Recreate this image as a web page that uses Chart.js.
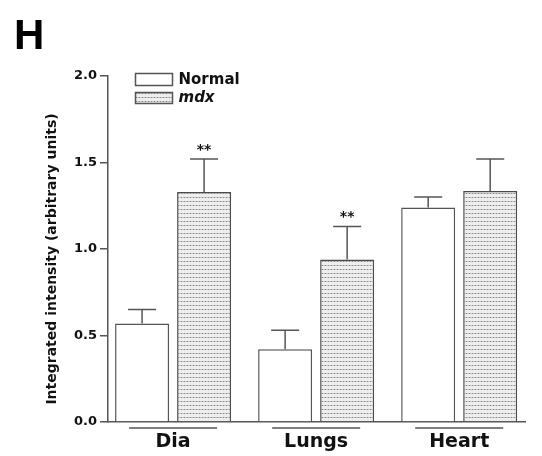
<!DOCTYPE html>
<html lang="en">
<head>
  <meta charset="UTF-8">
  <title>Integrated intensity</title>
  <script src="https://cdn.jsdelivr.net/npm/chart.js@4.4.0/dist/chart.umd.min.js"></script>
  <style>
    body { margin: 0; background: #fff; }
    .wrap { width: 542px; height: 456px; }
  </style>
</head>
<body>
  <div class="wrap"><canvas id="chart" width="542" height="456"></canvas></div>

  <script>
    const categories = ['Dia', 'Lungs', 'Heart'];
    const normalValues = [0.57, 0.42, 1.24];
    const normalErrors = [0.08, 0.11, 0.06];
    const mdxValues = [1.33, 0.94, 1.335];
    const mdxErrors = [0.19, 0.19, 0.185];
    const mdxMarks = ['**', '**', ''];
    const yTicks = [0, 0.5, 1.0, 1.5, 2.0];
    const yTitle = 'Integrated intensity (arbitrary units)';

    const FONT = 'DejaVu Sans';
    const AXIS = '#555';
    const TEXT = '#111';

    const canvas = document.getElementById('chart');
    const ctx = canvas.getContext('2d');

    function dotPattern() {
      const c = document.createElement('canvas');
      c.width = 3; c.height = 4;
      const g = c.getContext('2d');
      g.fillStyle = '#eeeeee';
      g.fillRect(0, 0, 3, 4);
      g.fillStyle = '#c4c4c4';
      g.fillRect(0, 1, 3, 1);
      g.fillStyle = '#888';
      g.fillRect(1, 1, 1, 1);
      return ctx.createPattern(c, 'repeat');
    }
    const dots = dotPattern();

    // error bars (upper only) + significance stars
    const errorBars = {
      id: 'errorBars',
      afterDatasetsDraw(chart) {
        const c = chart.ctx;
        const y = chart.scales.y;
        chart.data.datasets.forEach((ds, di) => {
          const meta = chart.getDatasetMeta(di);
          meta.data.forEach((bar, i) => {
            const top = y.getPixelForValue(ds.data[i].y + ds.errors[i]);
            c.save();
            c.strokeStyle = AXIS;
            c.lineWidth = 1.5;
            c.beginPath();
            c.moveTo(bar.x, bar.y);
            c.lineTo(bar.x, top);
            c.moveTo(bar.x - 14, top);
            c.lineTo(bar.x + 14, top);
            c.stroke();
            if (ds.marks && ds.marks[i]) {
              c.fillStyle = TEXT;
              c.font = 'bold 14px ' + FONT;
              c.textAlign = 'center';
              c.textBaseline = 'middle';
              c.fillText(ds.marks[i], bar.x, top - 9);
            }
            c.restore();
          });
        });
      }
    };

    // panel letter, axis title, legend and category underlines
    const decorations = {
      id: 'decorations',
      afterDraw(chart) {
        const c = chart.ctx;
        const area = chart.chartArea;
        c.save();
        c.fillStyle = '#000';
        c.font = 'bold 42px "Liberation Sans"';
        c.textBaseline = 'alphabetic';
        c.fillText('H', 14, 49);

        c.save();
        c.translate(52, 259);
        c.rotate(-Math.PI / 2);
        c.fillStyle = TEXT;
        c.font = 'bold 14px ' + FONT;
        c.textAlign = 'center';
        c.textBaseline = 'middle';
        c.fillText(yTitle, 0, 0);
        c.restore();

        const bx = area.left + 27.5;
        c.lineWidth = 1.5;
        c.strokeStyle = AXIS;
        c.fillStyle = '#fff';
        c.fillRect(bx, 73.5, 37, 12);
        c.strokeRect(bx, 73.5, 37, 12);
        c.fillStyle = dots;
        c.fillRect(bx, 92.5, 37, 11);
        c.strokeRect(bx, 92.5, 37, 11);
        c.fillStyle = TEXT;
        c.textBaseline = 'middle';
        c.font = 'bold 15px ' + FONT;
        c.fillText('Normal', bx + 43, 80);
        c.font = 'italic bold 15px ' + FONT;
        c.fillText('mdx', bx + 43, 98);

        const x = chart.scales.x;
        c.beginPath();
        categories.forEach((cat, i) => {
          const cx = x.getPixelForValue(i);
          c.moveTo(cx - 44, area.bottom + 6);
          c.lineTo(cx + 44, area.bottom + 6);
        });
        c.stroke();
        c.restore();
      }
    };

    new Chart(ctx, {
      type: 'bar',
      data: {
        datasets: [{
          label: 'Normal',
          data: normalValues.map((v, i) => ({ x: i, y: v })),
          errors: normalErrors,
          backgroundColor: '#fff',
          borderColor: AXIS,
          borderWidth: 1.5
        }, {
          label: 'mdx',
          data: mdxValues.map((v, i) => ({ x: i, y: v })),
          errors: mdxErrors,
          marks: mdxMarks,
          backgroundColor: dots,
          borderColor: '#4a4a4a',
          borderWidth: 1.5
        }]
      },
      options: {
        responsive: false,
        animation: false,
        categoryPercentage: 0.867,
        barPercentage: 0.871,
        layout: { padding: { top: 76, right: 17, bottom: 0, left: 0 } },
        plugins: {
          legend: { display: false },
          tooltip: { enabled: false }
        },
        scales: {
          x: {
            type: 'linear',
            min: -0.455,
            max: 2.46,
            offset: false,
            grid: { display: false, offset: false, drawTicks: false },
            border: { display: true, color: AXIS, width: 1.5 },
            afterBuildTicks: s => { s.ticks = categories.map((c, i) => ({ value: i })); },
            afterFit: s => { s.height = 34; },
            ticks: {
              callback: v => categories[v],
              autoSkip: false,
              maxRotation: 0,
              padding: 9,
              color: TEXT,
              font: { family: FONT, weight: 'bold', size: 19 }
            }
          },
          y: {
            min: 0,
            max: 2,
            afterBuildTicks: s => { s.ticks = yTicks.map(v => ({ value: v })); },
            afterFit: s => { s.width = 108; },
            grid: { display: true, drawOnChartArea: false, drawTicks: true, tickLength: 8, color: AXIS, lineWidth: 1.5 },
            border: { display: true, color: AXIS, width: 1.5 },
            ticks: {
              callback: v => v.toFixed(1),
              padding: 3,
              color: TEXT,
              font: { family: FONT, weight: 'bold', size: 13 }
            }
          }
        }
      },
      plugins: [errorBars, decorations]
    });
  </script>
</body>
</html>
